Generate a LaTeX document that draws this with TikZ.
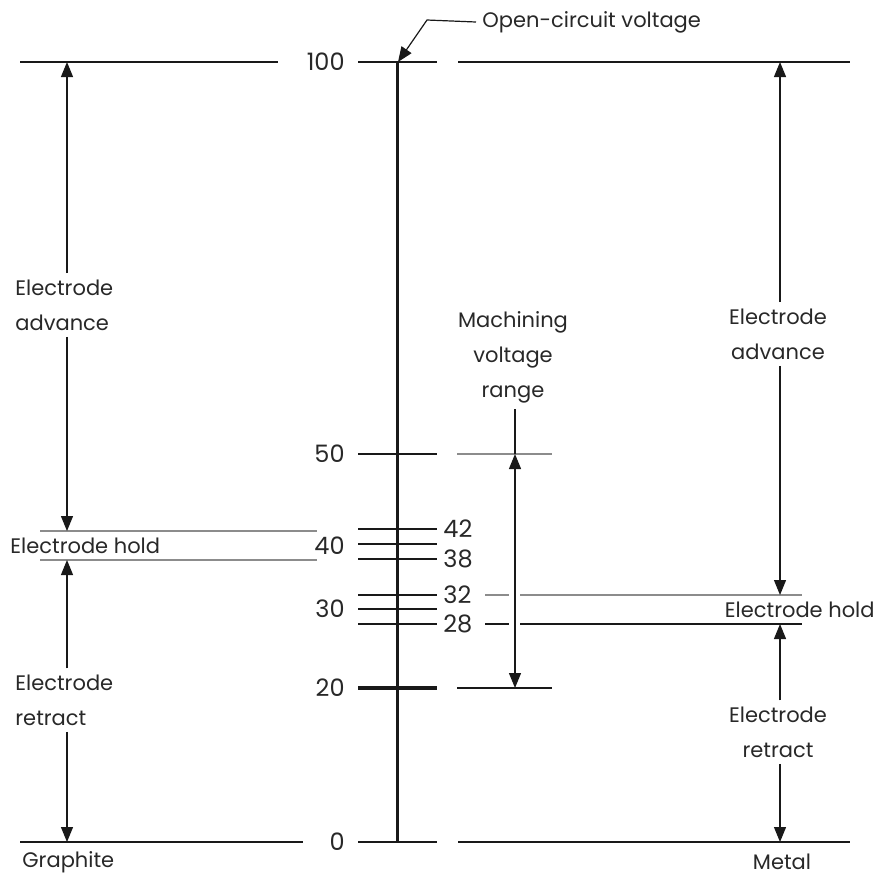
\documentclass[tikz,border=0pt]{standalone}
\usepackage{fontspec}
\setmainfont{Poppins}
\usetikzlibrary{arrows.meta}
\definecolor{inkclr}{RGB}{25,25,25}
\definecolor{textclr}{RGB}{40,40,40}
\definecolor{greyclr}{RGB}{140,140,140}

\begin{document}
\begin{tikzpicture}[x=0.5pt, y=-0.5pt,
    >={Triangle[length=7.5pt,width=6pt]},
    lvl/.style={draw=inkclr, line width=0.9pt},
    faint/.style={draw=greyclr, line width=0.6pt},
    dimline/.style={draw=inkclr, line width=0.6pt},
    lbl/.style={font=\fontsize{10.5}{17.5}\selectfont, text=textclr, inner sep=3pt},
    num/.style={font=\fontsize{12}{14}\selectfont, text=textclr, inner sep=1pt}]
  \useasboundingbox (0,0) rectangle (878,875);
  \draw[lvl] (20,62) -- (278,62);
  \draw[lvl] (458,62) -- (850,62);
  \draw[lvl] (20,842) -- (303,842);
  \draw[lvl] (458,842) -- (850,842);
  \draw[faint] (457,454) -- (552,454);
  \draw[lvl] (457,688) -- (552,688);
  \draw[faint] (40,531) -- (317,531);
  \draw[faint] (40,560) -- (317,560);
  \draw[faint] (485,595) -- (509,595);
  \draw[faint] (520,595) -- (802,595);
  \draw[dimline, line width=0.75pt] (485,624) -- (509,624);
  \draw[dimline, line width=0.75pt] (520,624) -- (802,624);
  \draw[lvl] (358,62) -- (437,62);
  \draw[lvl] (358,454) -- (437,454);
  \draw[lvl, line width=1.1pt] (358,529) -- (437,529);
  \draw[lvl, line width=1.1pt] (358,544) -- (437,544);
  \draw[lvl, line width=1.1pt] (358,559) -- (437,559);
  \draw[lvl, line width=0.8pt] (358,595) -- (437,595);
  \draw[lvl, line width=0.8pt] (358,609) -- (437,609);
  \draw[lvl, line width=1.4pt] (358,624) -- (437,624);
  \draw[lvl, line width=1.7pt] (358,688) -- (437,688);
  \draw[lvl] (358,842) -- (437,842);
  \draw[draw=inkclr, line width=1.5pt] (397,62) -- (397,842);
  \node[num, anchor=east] (n100) at (347,62) {100};
  \node[num, anchor=east] (n50) at (347,454) {50};
  \node[num, anchor=east] (n40) at (347,546) {40};
  \node[num, anchor=east] (n30) at (347,609) {30};
  \node[num, anchor=east] (n20) at (347,688) {20};
  \node[num, anchor=east] (n0) at (347,842) {0};
  \node[num, anchor=west] (n42) at (441,529) {42};
  \node[num, anchor=west] (n38) at (441,559) {38};
  \node[num, anchor=west] (n32) at (441,595) {32};
  \node[num, anchor=west] (n28) at (441,624) {28};
  \coordinate (ocv) at (398,62);
  \coordinate (ocvbend) at (427,20);
  \node[lbl, anchor=west] (ocvlbl) at (476,22) {Open-circuit voltage};
  \draw[dimline, ->] (ocvlbl.west) -- (ocvbend) -- (ocv);
  \coordinate (gtop) at (67,62);
  \coordinate (gholdtop) at (67,531);
  \coordinate (gholdbot) at (67,560);
  \coordinate (gbot) at (67,842);
  \node[lbl, anchor=west, align=left] (gadv) at (9,305) {Electrode\\advance};
  \node[lbl, anchor=west, align=left] (gret) at (9,700) {Electrode\\retract};
  \node[lbl, anchor=west, inner sep=1pt] (ghold) at (8,546) {Electrode hold};
  \draw[dimline, ->] (gadv.north -| gtop) -- (gtop);
  \draw[dimline, ->] (gadv.south -| gtop) -- (gholdtop);
  \draw[dimline, ->] (gret.north -| gtop) -- (gholdbot);
  \draw[dimline, ->] (gret.south -| gtop) -- (gbot);
  \coordinate (mtop) at (515,454);
  \coordinate (mbot) at (515,688);
  \node[lbl, align=center] (mvr) at (513,357) {Machining\\voltage\\range};
  \draw[dimline] (mvr.south -| mtop) -- (mtop);
  \draw[dimline, <->] (mtop) -- (mbot);
  \coordinate (mtop) at (780,62);
  \coordinate (mholdtop) at (780,595);
  \coordinate (mholdbot) at (780,624);
  \coordinate (mbot) at (780,842);
  \node[lbl, align=center] (madv) at (778,334) {Electrode\\advance};
  \node[lbl, align=center] (mret) at (778,732) {Electrode\\retract};
  \node[lbl, anchor=east, inner sep=1pt] (mhold) at (877,610) {Electrode hold};
  \draw[dimline, ->] (madv.north -| mtop) -- (mtop);
  \draw[dimline, ->] (madv.south -| mtop) -- (mholdtop);
  \draw[dimline, ->] (mret.north -| mtop) -- (mholdbot);
  \draw[dimline, ->] (mret.south -| mtop) -- (mbot);
  \node[lbl, anchor=west, inner sep=1pt] (graphite) at (20,862) {Graphite};
  \node[lbl, inner sep=1pt] (metal) at (782,862) {Metal};
\end{tikzpicture}
\end{document}
